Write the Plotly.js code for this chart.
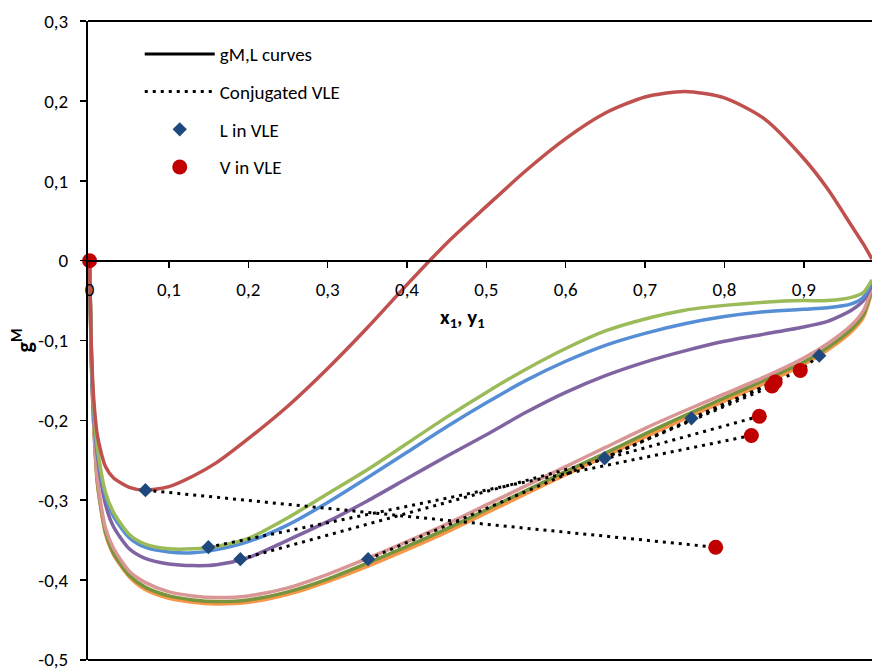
<!DOCTYPE html>
<html>
<head>
<meta charset="utf-8">
<script src="https://cdn.plot.ly/plotly-3.0.1.min.js"></script>
<style>html,body{margin:0;padding:0;background:#fff;}#chart{width:872px;height:671px;}</style>
</head>
<body>
<div id="chart"></div>
<script>
// Shared mole-fraction grid for the gM,L curves
var xGrid = [0, 0.002, 0.005, 0.01, 0.02, 0.03, 0.05, 0.07, 0.1, 0.13, 0.16, 0.2, 0.25, 0.3, 0.35, 0.4, 0.45, 0.5, 0.55, 0.6, 0.65, 0.7, 0.75, 0.8, 0.85, 0.9, 0.93, 0.96, 0.975, 0.986];

var curveRed    = [0, -0.1, -0.17, -0.22, -0.258, -0.272, -0.284, -0.2875, -0.283, -0.27, -0.253, -0.223, -0.182, -0.135, -0.084, -0.03, 0.022, 0.068, 0.113, 0.153, 0.185, 0.205, 0.212, 0.204, 0.178, 0.128, 0.09, 0.044, 0.021, 0.002];
var curveGreen  = [0, -0.1, -0.18, -0.235, -0.29, -0.315, -0.343, -0.355, -0.361, -0.361, -0.358, -0.348, -0.322, -0.292, -0.262, -0.229, -0.196, -0.165, -0.136, -0.11, -0.088, -0.073, -0.062, -0.056, -0.052, -0.05, -0.05, -0.046, -0.04, -0.024];
var curveBlue   = [0, -0.11, -0.19, -0.24, -0.295, -0.32, -0.347, -0.359, -0.365, -0.366, -0.362, -0.352, -0.331, -0.303, -0.272, -0.24, -0.208, -0.178, -0.15, -0.126, -0.106, -0.091, -0.079, -0.07, -0.064, -0.061, -0.059, -0.054, -0.046, -0.026];
var curvePurple = [0, -0.11, -0.19, -0.245, -0.305, -0.333, -0.361, -0.373, -0.38, -0.382, -0.381, -0.372, -0.35, -0.327, -0.301, -0.273, -0.245, -0.218, -0.19, -0.165, -0.144, -0.127, -0.113, -0.101, -0.092, -0.083, -0.076, -0.062, -0.05, -0.03];
var curveOrange = [0, -0.12, -0.2, -0.28, -0.342, -0.368, -0.396, -0.412, -0.423, -0.428, -0.43, -0.428, -0.418, -0.402, -0.383, -0.362, -0.34, -0.316, -0.292, -0.268, -0.245, -0.221, -0.198, -0.176, -0.154, -0.13, -0.112, -0.089, -0.071, -0.038];
var curveDkGreen= [0, -0.12, -0.2, -0.28, -0.34, -0.366, -0.394, -0.409, -0.42, -0.425, -0.427, -0.425, -0.415, -0.399, -0.379, -0.358, -0.336, -0.312, -0.288, -0.264, -0.241, -0.217, -0.194, -0.172, -0.15, -0.127, -0.109, -0.086, -0.068, -0.036];
var curvePink   = [0, -0.12, -0.2, -0.275, -0.335, -0.36, -0.389, -0.403, -0.415, -0.42, -0.422, -0.42, -0.41, -0.393, -0.373, -0.352, -0.33, -0.306, -0.282, -0.258, -0.234, -0.21, -0.188, -0.167, -0.146, -0.122, -0.104, -0.081, -0.063, -0.033];

// VLE points
var liqX = [0.0704, 0.1497, 0.19, 0.351, 0.649, 0.7585, 0.9195];
var liqY = [-0.2875, -0.359, -0.374, -0.374, -0.2475, -0.1975, -0.119];
var vapX = [0, 0.789, 0.834, 0.844, 0.86, 0.864, 0.8956];
var vapY = [0, -0.359, -0.219, -0.195, -0.157, -0.152, -0.1375];
// conjugated pairs: [liquid index, vapour index]
var tiePairs = [[0,1],[1,2],[2,3],[3,4],[4,5],[5,6],[6,6]];

var xTickVals = [0, 0.1, 0.2, 0.3, 0.4, 0.5, 0.6, 0.7, 0.8, 0.9];
var xTickText = ["0", "0,1", "0,2", "0,3", "0,4", "0,5", "0,6", "0,7", "0,8", "0,9"];
var yTickVals = [-0.5, -0.4, -0.3, -0.2, -0.1, 0, 0.1, 0.2, 0.3];
var yTickText = ["-0,5", "-0,4", "-0,3", "-0,2", "-0,1", "0", "0,1", "0,2", "0,3"];

var FONT = "Carlito, Calibri, Lato, sans-serif";

function curve(y, color) {
  return {x: xGrid, y: y, type: 'scatter', mode: 'lines', showlegend: false, hoverinfo: 'skip',
          line: {color: color, width: 3.5, shape: 'spline', smoothing: 0.7}};
}

var tieX = [], tieY = [];
tiePairs.forEach(function (p) {
  tieX.push(liqX[p[0]], vapX[p[1]], null);
  tieY.push(liqY[p[0]], vapY[p[1]], null);
});

var traces = [
  curve(curveOrange, '#F79646'),
  curve(curveDkGreen, '#77933C'),
  curve(curvePink, '#D99694'),
  curve(curvePurple, '#8064A2'),
  curve(curveBlue, '#558ED5'),
  curve(curveGreen, '#9BBB59'),
  curve(curveRed, '#C0504D'),
  {x: [null], y: [null], type: 'scatter', mode: 'lines', name: 'gM,L curves', legendgroup: 'a',
   line: {color: '#000', width: 3}},
  {x: tieX, y: tieY, type: 'scatter', mode: 'lines', name: 'Conjugated VLE', legendgroup: 'b',
   line: {color: '#000', width: 3, dash: '3px,5px'}},
  {x: liqX, y: liqY, type: 'scatter', mode: 'markers', name: 'L in VLE', legendgroup: 'c', cliponaxis: false,
   marker: {symbol: 'diamond', size: 11, color: '#1F497D'}},
  {x: vapX, y: vapY, type: 'scatter', mode: 'markers', name: 'V in VLE', legendgroup: 'd', cliponaxis: false,
   marker: {symbol: 'circle', size: 15, color: '#C00000'}}
];

var layout = {
  width: 872, height: 671,
  margin: {l: 88, r: 0, t: 21, b: 11, pad: 0},
  paper_bgcolor: '#fff', plot_bgcolor: '#fff',
  separators: ', ',
  font: {family: FONT, size: 18, color: '#000'},
  showlegend: true,
  legend: {x: 0.066, y: 0.978, xanchor: 'left', yanchor: 'top', traceorder: 'grouped', tracegroupgap: 10,
           itemwidth: 70, font: {family: FONT, size: 19, color: '#000'}, bgcolor: 'rgba(0,0,0,0)'},
  xaxis: {range: [-0.002, 0.986], anchor: 'free', position: 0.625, showline: true, linecolor: '#000', linewidth: 2,
          ticks: 'outside', ticklen: 6, tickwidth: 1.5, tickcolor: '#000', tickvals: xTickVals, ticktext: xTickText,
          showgrid: false, zeroline: false, ticklabelstandoff: 6, ticklabeloverflow: 'allow',
          tickfont: {family: FONT, size: 19}},
  yaxis: {range: [-0.5003, 0.3003], showline: true, linecolor: '#000', linewidth: 2,
          ticks: 'outside', ticklen: 6, tickwidth: 1.5, tickcolor: '#000', tickvals: yTickVals, ticktext: yTickText,
          showgrid: false, zeroline: false, ticklabelstandoff: 8, ticklabeloverflow: 'allow',
          tickfont: {family: FONT, size: 19},
          title: {text: '<b>g<sup>M</sup></b>', font: {family: FONT, size: 22}, standoff: 0}},
  shapes: [
    {type: 'line', xref: 'paper', yref: 'paper', x0: 0, x1: 1, y0: 1, y1: 1, line: {color: '#000', width: 2}},
    {type: 'line', xref: 'paper', yref: 'paper', x0: 0, x1: 1, y0: 0, y1: 0, line: {color: '#000', width: 2}}
  ],
  annotations: [
    {text: '<b>x<sub>1</sub>, y<sub>1</sub></b>', xref: 'paper', yref: 'paper', x: 0.478, y: 0.535,
     xanchor: 'center', yanchor: 'middle', showarrow: false, font: {family: FONT, size: 21, color: '#000'}}
  ]
};

Plotly.newPlot('chart', traces, layout, {staticPlot: true, displayModeBar: false});
</script>
</body>
</html>
